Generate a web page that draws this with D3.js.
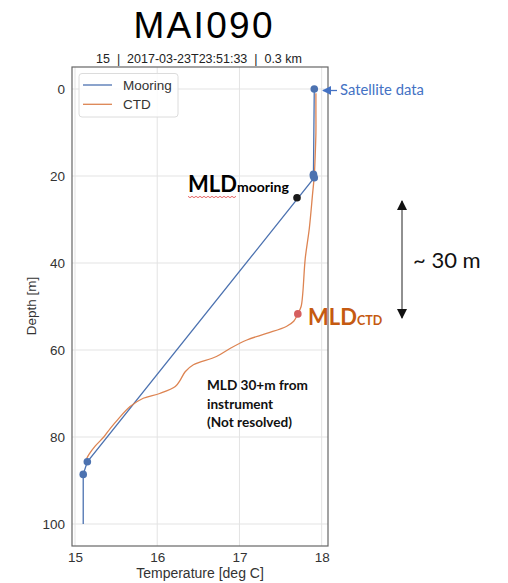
<!DOCTYPE html>
<html><head><meta charset="utf-8">
<script src="https://cdn.jsdelivr.net/npm/d3@7"></script>
<style>body{margin:0;background:#fff}svg{display:block}</style>
</head><body>
<script>
// ---- data ----
const title = "MAI090";
const subtitle = "15  |  2017-03-23T23:51:33  |  0.3 km";
const xTicks = [15, 16, 17, 18];
const yTicks = [0, 20, 40, 60, 80, 100];
const mooringDepth = [0, 19.6, 20.0, 20.4, 85.7, 88.6, 100];
const mooringTemp  = [17.91, 17.90, 17.90, 17.91, 15.15, 15.10, 15.10];
const mooringMarker = [true, true, true, true, true, true, false];
const ctdDepth = [1, 5, 10, 16, 20, 24, 32, 39, 47, 50, 51.7, 53.4, 54.6, 56.2, 57.7, 59.6, 61.5, 63.4, 65, 66.9, 68.4, 70, 71.1, 73, 76, 78, 80, 82, 84, 85];
const ctdTemp  = [17.93, 17.93, 17.93, 17.92, 17.91, 17.89, 17.85, 17.80, 17.77, 17.75, 17.71, 17.66, 17.57, 17.33, 17.09, 16.89, 16.72, 16.44, 16.34, 16.28, 16.22, 16.03, 15.83, 15.67, 15.52, 15.43, 15.35, 15.25, 15.17, 15.14];
const mldMooring = {temp: 17.70, depth: 25};
const mldCTD = {temp: 17.71, depth: 51.7};
const seriesNames = ["Mooring", "CTD"];

// ---- layout ----
const W = 508, H = 583;
const svg = d3.select("body").append("svg").attr("width", W).attr("height", H);
const x = d3.scaleLinear().domain([14.9635, 18.077]).range([72, 328]);
const y = d3.scaleLinear().domain([-5.06, 105.06]).range([67, 546]);
const blue = "#4c72b0", orange = "#dd8452";
const sans = "'Liberation Sans', Arial, sans-serif";
const cal = "Lato, 'Open Sans', sans-serif";

// grid
const g = svg.append("g");
g.selectAll(".vg").data(xTicks).join("line")
  .attr("x1", d => x(d)).attr("x2", d => x(d)).attr("y1", 67).attr("y2", 546)
  .attr("stroke", "#e3e3e3").attr("stroke-width", 1);
g.selectAll(".hg").data(yTicks).join("line")
  .attr("y1", d => y(d)).attr("y2", d => y(d)).attr("x1", 72).attr("x2", 328)
  .attr("stroke", "#e3e3e3").attr("stroke-width", 1);

// axes (labels only)
const xa = svg.append("g").attr("transform", "translate(0,546)")
  .call(d3.axisBottom(x).tickValues(xTicks).tickSize(0).tickPadding(6).tickFormat(d3.format("d")));
const ya = svg.append("g").attr("transform", "translate(72,0)")
  .call(d3.axisLeft(y).tickValues(yTicks).tickSize(0).tickPadding(7).tickFormat(d3.format("d")));
[xa, ya].forEach(a => {
  a.select(".domain").remove();
  a.selectAll("text").attr("font-family", sans).attr("font-size", 13.5).attr("fill", "#333");
});

// frame
svg.append("rect").attr("x", 72).attr("y", 67).attr("width", 256).attr("height", 479)
  .attr("fill", "none").attr("stroke", "#666").attr("stroke-width", 1.2);

// titles
svg.append("text").attr("x", 203).attr("y", 38).attr("text-anchor", "middle")
  .attr("font-family", sans).attr("font-size", 37).attr("fill", "#000")
  .attr("textLength", 139).attr("lengthAdjust", "spacing").text(title);
svg.append("text").attr("x", 199).attr("y", 63).attr("text-anchor", "middle")
  .attr("font-family", sans).attr("font-size", 12.5).attr("fill", "#222")
  .attr("xml:space", "preserve").style("white-space", "pre").text(subtitle);
svg.append("text").attr("x", 200).attr("y", 578).attr("text-anchor", "middle")
  .attr("font-family", sans).attr("font-size", 14).attr("fill", "#333").text("Temperature [deg C]");
svg.append("text").attr("transform", "translate(36,306) rotate(-90)").attr("text-anchor", "middle")
  .attr("font-family", sans).attr("font-size", 13.5).attr("fill", "#333").text("Depth [m]");

// lines
const mooring = mooringDepth.map((d, i) => ({d, t: mooringTemp[i], m: mooringMarker[i]}));
const ctd = ctdDepth.map((d, i) => ({d, t: ctdTemp[i]}));
svg.append("path").datum(mooring)
  .attr("d", d3.line().x(p => x(p.t)).y(p => y(p.d)))
  .attr("fill", "none").attr("stroke", blue).attr("stroke-width", 1.3);
svg.append("path").datum(ctd)
  .attr("d", d3.line().x(p => x(p.t)).y(p => y(p.d)).curve(d3.curveCatmullRom))
  .attr("fill", "none").attr("stroke", orange).attr("stroke-width", 1.3);
svg.selectAll(".mk").data(mooring.filter(p => p.m)).join("circle")
  .attr("cx", p => x(p.t)).attr("cy", p => y(p.d)).attr("r", 3.8).attr("fill", blue);

// MLD points
svg.append("circle").attr("cx", x(mldMooring.temp)).attr("cy", y(mldMooring.depth)).attr("r", 3.8).attr("fill", "#1a1a1a");
svg.append("circle").attr("cx", x(mldCTD.temp)).attr("cy", y(mldCTD.depth)).attr("r", 3.8).attr("fill", "#d65f5f");

// legend
const lg = svg.append("g");
lg.append("rect").attr("x", 79).attr("y", 73.5).attr("width", 99).attr("height", 43.5).attr("rx", 3)
  .attr("fill", "#fff").attr("fill-opacity", 0.85).attr("stroke", "#dcdcdc");
seriesNames.forEach((n, i) => {
  const yy = 85 + i * 19.3;
  lg.append("line").attr("x1", 83).attr("x2", 112).attr("y1", yy).attr("y2", yy)
    .attr("stroke", i ? orange : blue).attr("stroke-width", 1.3);
  lg.append("text").attr("x", 123).attr("y", yy + 4.6).attr("font-family", sans).attr("font-size", 13.5)
    .attr("fill", "#333").text(n);
});

// annotations
const defs = svg.append("defs");
defs.append("marker").attr("id", "bl").attr("viewBox", "0 0 10 10").attr("refX", 9).attr("refY", 5)
  .attr("markerWidth", 9).attr("markerHeight", 9).attr("markerUnits", "userSpaceOnUse").attr("orient", "auto")
  .append("path").attr("d", "M0,0L10,5L0,10z").attr("fill", "#4472c4");
defs.append("marker").attr("id", "bk").attr("viewBox", "0 0 10 10").attr("refX", 9).attr("refY", 5)
  .attr("markerWidth", 10).attr("markerHeight", 10).attr("markerUnits", "userSpaceOnUse").attr("orient", "auto-start-reverse")
  .append("path").attr("d", "M0,0L10,5L0,10z").attr("fill", "#111");

svg.append("line").attr("x1", 337).attr("x2", 323).attr("y1", 90.5).attr("y2", 90.5)
  .attr("stroke", "#4472c4").attr("stroke-width", 1.3).attr("marker-end", "url(#bl)");
svg.append("text").attr("x", 340).attr("y", 95).attr("font-family", cal).attr("font-size", 14.8)
  .attr("fill", "#4472c4").text("Satellite data");

const t1 = svg.append("text").attr("x", 188).attr("y", 192).attr("font-family", cal).attr("font-weight", "bold").attr("fill", "#000");
t1.append("tspan").attr("font-size", 22).text("MLD");
t1.append("tspan").attr("font-size", 14).text("mooring");
// spell-check squiggle
const sq = d3.range(0, 25).map(i => [188 + i * 2, 196.5 + (i % 2 ? 1.2 : -0.2)]);
svg.append("path").attr("d", d3.line()(sq)).attr("fill", "none").attr("stroke", "#e04040").attr("stroke-width", 0.8);

const t2 = svg.append("text").attr("x", 308).attr("y", 325).attr("font-family", cal).attr("font-weight", "bold").attr("fill", "#c55a11");
t2.append("tspan").attr("font-size", 22).text("MLD");
t2.append("tspan").attr("font-size", 12.5).text("CTD");

svg.append("line").attr("x1", 402).attr("x2", 402).attr("y1", 201).attr("y2", 318)
  .attr("stroke", "#222").attr("stroke-width", 1)
  .attr("marker-start", "url(#bk)").attr("marker-end", "url(#bk)");
svg.append("text").attr("x", 413).attr("y", 268).attr("font-family", cal).attr("font-size", 22)
  .attr("fill", "#111").text("~ 30 m");

const note = ["MLD 30+m from", "instrument", "(Not resolved)"];
svg.append("g").selectAll("text").data(note).join("text")
  .attr("x", 207).attr("y", (d, i) => 390 + i * 18.5).attr("font-family", cal).attr("font-weight", "bold")
  .attr("font-size", 13.6).attr("fill", "#111").text(d => d);
</script>
</body></html>
